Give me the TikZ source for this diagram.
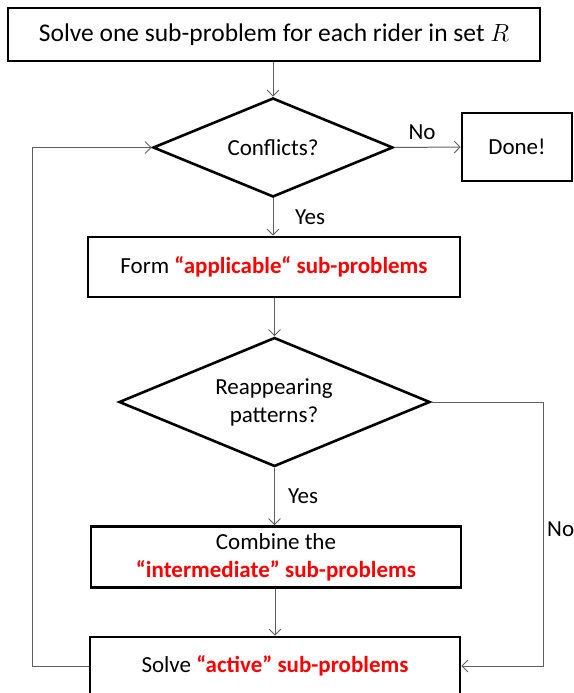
\documentclass[tikz,border=0pt]{standalone}
\usepackage{fontspec}
\setmainfont{Carlito}
\usetikzlibrary{shapes.geometric,arrows.meta}
\definecolor{hlred}{RGB}{255,0,0}
\definecolor{lngray}{RGB}{95,95,95}
\tikzset{
  boxnode/.style={draw=black,line width=2.6pt,rectangle,inner sep=0pt,align=center,font=\fontsize{23}{28}\selectfont},
  decnode/.style={draw=black,line width=2.6pt,diamond,inner sep=0pt},
  conn/.style={draw=lngray,line width=1pt,-{Straight Barb[length=6pt,width=12pt,line width=0.9pt]}},
  lbl/.style={font=\fontsize{23}{28}\selectfont,inner sep=0pt,align=center}
}
\newcommand{\hl}[1]{\textcolor{hlred}{\textbf{#1}}}
\begin{document}
\begin{tikzpicture}[x=1pt,y=-1pt]
\useasboundingbox (0,0) rectangle (573,693);
\clip (0,0) rectangle (573,693);
\node[boxnode,minimum width=532pt,minimum height=53pt,font=\fontsize{25.5}{30}\selectfont] (top) at (274,34.5) {Solve one sub-problem for each rider in set $R$};
\node[decnode,minimum width=240pt,minimum height=99pt] (d1) at (273,147.5) {};
\node[lbl] (d1text) at (273,148) {Conflicts?};
\node[boxnode,minimum width=110pt,minimum height=68pt] (done) at (517,147) {Done!};
\node[boxnode,minimum width=372pt,minimum height=60pt] (form) at (274,267) {Form \hl{“applicable“ sub-problems}};
\node[decnode,minimum width=311pt,minimum height=129pt] (d2) at (274.5,402) {};
\node[lbl] (d2text) at (274,402) {Reappearing\\patterns?};
\node[boxnode,minimum width=370pt,minimum height=61pt] (comb) at (276,557) {Combine the\\\hl{“intermediate” sub-problems}};
\node[boxnode,minimum width=370pt,minimum height=90pt] (act) at (275,682) {};
\node[lbl] (acttext) at (275,666) {Solve \hl{“active” sub-problems}};
\coordinate (rc) at (543,402);
\coordinate (rb) at (543,666);
\coordinate (lb) at (32,666);
\coordinate (lt) at (32,147.5);
\path[conn] (top.south -| d1.north) -- (d1.north);
\path[conn] (d1.east) -- (done.west);
\node[lbl] (no1) at (422,132) {No};
\path[conn] (d1.south) -- (d1.south |- form.north);
\node[lbl] (yes1) at (310,217) {Yes};
\path[conn] (form.south -| d2.north) -- (d2.north);
\path[conn] (d2.south) -- (d2.south |- comb.north);
\node[lbl] (yes2) at (303,496) {Yes};
\path[conn] (comb.south -| act.north) -- (act.north);
\path[conn] (d2.east) -- (rc) -- (rb) -- (act.east |- rb);
\node[lbl,anchor=west] (no2) at (547,529) {No};
\path[conn] (act.west |- lb) -- (lb) -- (lt) -- (d1.west);
\end{tikzpicture}
\end{document}
